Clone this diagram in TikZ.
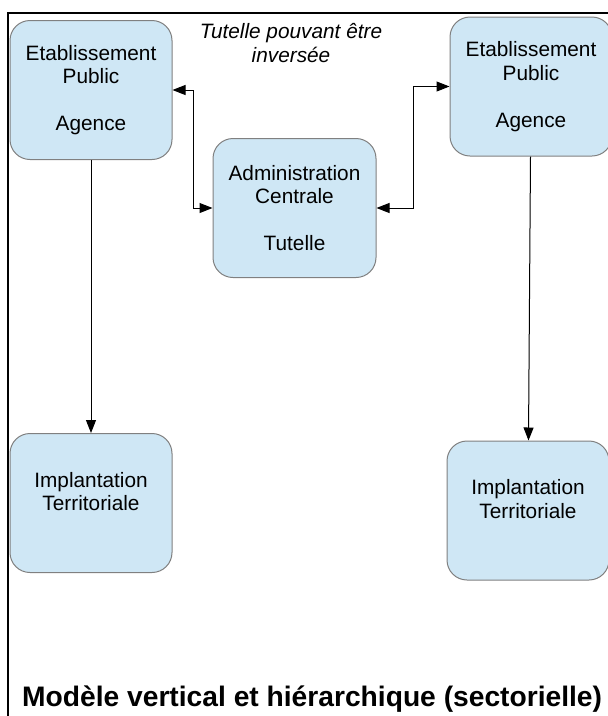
\documentclass[tikz,border=0pt]{standalone}
\usepackage{fontspec}
\setmainfont{Liberation Sans}
\usetikzlibrary{arrows.meta}
\definecolor{bleubloc}{RGB}{207,231,245}
\definecolor{grisbloc}{RGB}{128,128,128}
\begin{document}
\begin{tikzpicture}[x=1pt,y=-1pt,>={Triangle[length=13pt,width=10pt]},
  bloc/.style={draw=grisbloc,fill=bleubloc,line width=1pt,rounded corners=20pt,
    minimum width=162pt,minimum height=139pt,inner sep=0pt,align=center,
    font=\fontsize{20.8}{23.5}\selectfont},
  fleche/.style={line width=1pt,->}]
\useasboundingbox (0,0) rectangle (608,716);
\draw[line width=2pt](8.3,716)--(8.3,13.3)--(608,13.3);

\node[bloc](epl) at (91,90){Etablissement\\Public\\[23.5pt]Agence};
\node[bloc](epr) at (531,86.5){Etablissement\\Public\\[23.5pt]Agence};
\node[bloc,minimum width=163pt](adm) at (294.5,208){Administration\\Centrale\\[23.5pt]Tutelle};
\node[bloc](itl) at (91,503){Implantation\\Territoriale\\\mbox{}};
\node[bloc](itr) at (528,510.5){Implantation\\Territoriale\\\mbox{}};

\node[font=\itshape\fontsize{20.8}{24}\selectfont,align=center](note) at (291,43){Tutelle pouvant être\\inversée};

\draw[fleche](epl)--(itl);
\draw[fleche](epr)--(itr);
\draw[fleche,<->](epl.east)--++(21,0)|-(adm.west);
\draw[fleche,<->](adm.east)--++(37,0)|-(epr.west);

\node[anchor=base west,inner sep=0pt,font=\bfseries\fontsize{28.2}{30}\selectfont](titre) at (22,706){Modèle vertical et hiérarchique (sectorielle)};
\end{tikzpicture}
\end{document}
